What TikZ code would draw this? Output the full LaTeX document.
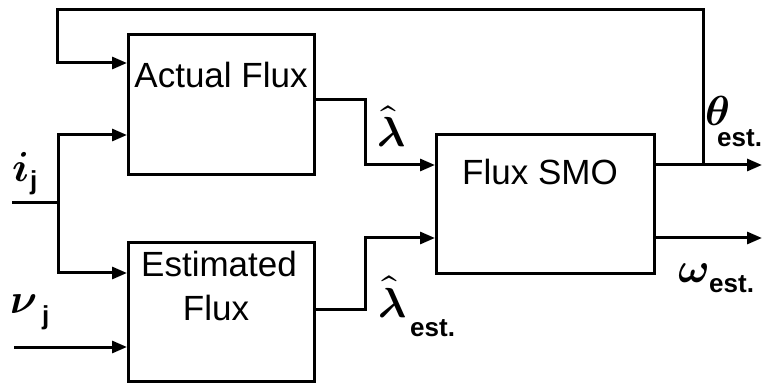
\documentclass[tikz,border=0pt]{standalone}
\usepackage{fontspec}
\usepackage{unicode-math}
\setmainfont{Liberation Sans}
\setmathfont{Latin Modern Math}
\usetikzlibrary{arrows.meta}
\begin{document}
\begin{tikzpicture}[x=1pt,y=-1pt,
  blk/.style={draw,line width=3pt,minimum width=186pt,minimum height=140pt,anchor=north west,inner sep=0pt},
  wire/.style={line width=3pt},
  arr/.style={wire,-{Triangle[length=15pt,width=12pt]}},
  btxt/.style={font=\fontsize{35}{43}\selectfont,inner sep=0pt,anchor=base},
  mlab/.style={font=\fontsize{42}{50}\selectfont,inner sep=0pt,anchor=base west},
  sublab/.style={font=\fontsize{26}{30}\selectfont\bfseries,inner sep=0pt,anchor=base west},
]
\useasboundingbox (0,0) rectangle (763,387);
% blocks
\node[blk] (af) at (127,33) {};
\node[blk,minimum height=139pt] (ef) at (127,241) {};
\node[blk,minimum width=218pt,minimum height=139pt] (smo) at (435,133) {};
% block texts
\node[btxt] (aft) at (221,88) {Actual Flux};
\node[btxt] (eft1) at (219,277) {Estimated};
\node[btxt] (eft2) at (216,320) {Flux};
\node[btxt] (smot) at (540,185) {Flux SMO};
% coordinates
\coordinate (tap) at (703,165);
\coordinate (iin) at (12,203);
\coordinate (isplit) at (58,203);
\coordinate (vin) at (14,347);
\coordinate (thout) at (762,165);
\coordinate (omout) at (762,238);
% feedback
\draw[arr] (tap) -- (703,10) -- (57,10) -- (57,63) -- (af.west |- 0,63);
% i_j input
\draw[wire] (iin) -- (isplit);
\draw[arr] (isplit) |- (af.west |- 0,135);
\draw[arr] (isplit) |- (ef.west |- 0,273);
% v_j input
\draw[arr] (vin) -- (ef.west |- vin);
% flux outputs
\draw[arr] (af.east |- 0,100) -- (365,100) -- (365,165) -- (smo.west |- 0,165);
\draw[arr] (ef.east |- 0,310) -- (365,310) -- (365,238) -- (smo.west |- 0,238);
% SMO outputs
\draw[arr] (smo.east |- 0,165) -- (thout);
\draw[arr] (smo.east |- 0,238) -- (omout);
% labels
\node[mlab] (il) at (12,182) {$\symbfit{i}$};
\node[sublab] (ilj) at (30,190) {j};
\node[mlab] (vl) at (10,313) {$\symbfit{\nu}$};
\node[sublab] (vlj) at (42,325) {j};
\node[mlab] (lam) at (377,147) {$\hat{\symbfit{\lambda}}$};
\node[mlab] (lame) at (378,317) {$\hat{\symbfit{\lambda}}$};
\node[sublab] (lames) at (410,336) {est.};
\node[mlab] (th) at (705,126) {$\symbfit{\theta}$};
\node[sublab] (ths) at (717,147) {est.};
\node[mlab] (om) at (678,283) {$\symbfit{\omega}$};
\node[sublab] (oms) at (709,293) {est.};
\end{tikzpicture}
\end{document}
